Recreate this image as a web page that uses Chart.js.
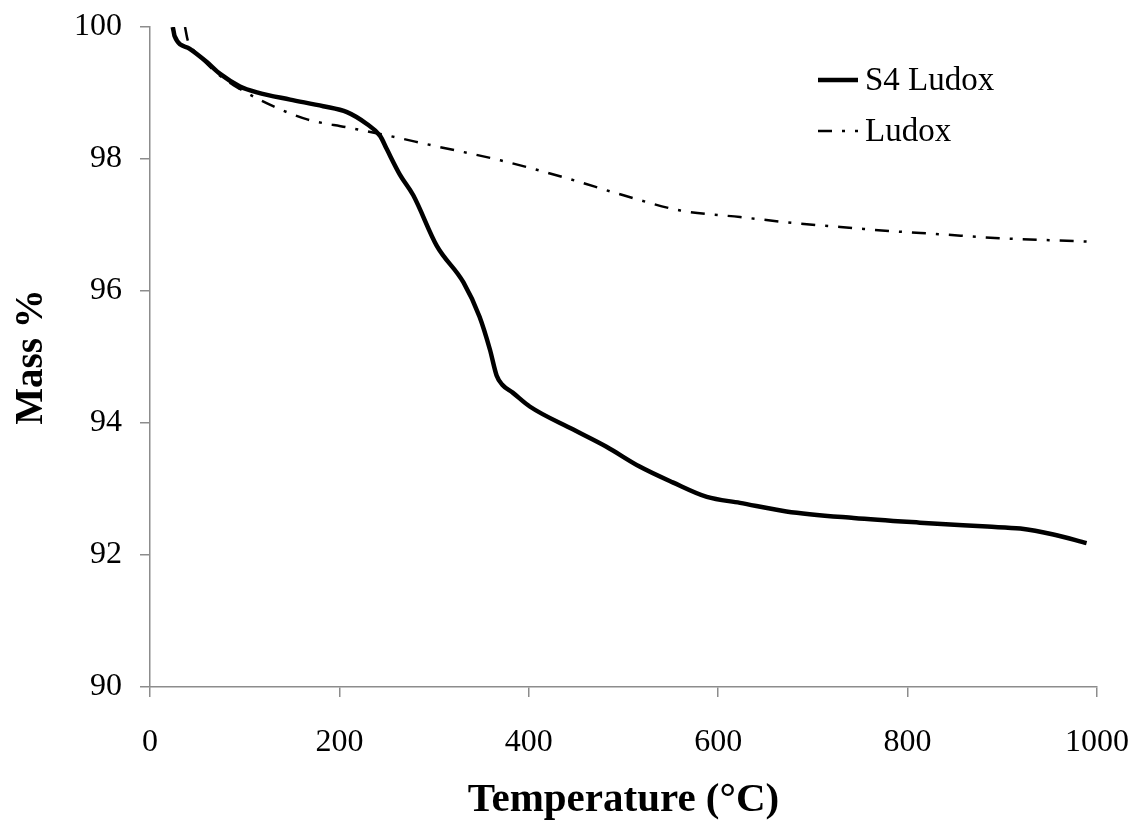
<!DOCTYPE html>
<html>
<head>
<meta charset="utf-8">
<script src="https://cdn.jsdelivr.net/npm/chart.js@4.4.0/dist/chart.umd.min.js"></script>
<style>
  html, body { margin: 0; padding: 0; background: #fff; }
  #wrap { width: 1141px; height: 826px; }
</style>
</head>
<body>
<div id="wrap"><canvas id="tga"></canvas></div>
<script>
// TGA curves, temperature in °C vs remaining mass in %
const s4Temp = [24, 25, 26, 42, 60, 74, 95, 113, 148, 183, 208, 229, 243, 250, 264, 278, 303, 331, 348, 359, 366, 372, 383, 401, 447, 482, 517, 552, 588, 623, 672, 743, 813, 884, 919, 954, 989];
const s4Mass = [100.0, 99.93, 99.86, 99.67, 99.47, 99.29, 99.1, 99.01, 98.9, 98.8, 98.71, 98.53, 98.35, 98.15, 97.76, 97.45, 96.68, 96.13, 95.61, 95.11, 94.72, 94.58, 94.46, 94.25, 93.9, 93.64, 93.34, 93.1, 92.88, 92.79, 92.66, 92.56, 92.49, 92.43, 92.4, 92.31, 92.18];

const ludoxTemp = [37, 40, 50, 74, 95, 130, 166, 208, 243, 300, 370, 440, 500, 560, 623, 680, 729, 780, 834, 897, 950, 989];
const ludoxMass = [100.0, 99.79, 99.6, 99.26, 99.06, 98.8, 98.6, 98.48, 98.38, 98.2, 97.98, 97.71, 97.45, 97.22, 97.12, 97.03, 96.97, 96.91, 96.86, 96.8, 96.77, 96.75];

const xTicks = [0, 200, 400, 600, 800, 1000];
const yTicks = [90, 92, 94, 96, 98, 100];

const toPoints = (xs, ys) => xs.map((x, i) => ({x: x, y: ys[i]}));

const serif = "'Liberation Serif', 'Times New Roman', serif";
const axisGray = "#8c8c8c";

// legend drawn inside the plot, top right
const innerLegend = {
  id: "innerLegend",
  afterDraw(chart) {
    const ctx = chart.ctx;
    const x0 = 818, x1 = 858;
    const rows = [80, 131];
    ctx.save();
    chart.data.datasets.forEach((ds, i) => {
      const y = rows[i];
      ctx.beginPath();
      ctx.setLineDash(ds.borderDash || []);
      ctx.lineWidth = ds.borderWidth;
      ctx.strokeStyle = ds.borderColor;
      ctx.moveTo(x0, y);
      ctx.lineTo(x1, y);
      ctx.stroke();
      ctx.setLineDash([]);
      ctx.fillStyle = "#000";
      ctx.font = "33px " + serif;
      ctx.textBaseline = "middle";
      ctx.fillText(ds.label, x1 + 7, y + 1);
    });
    ctx.restore();
  }
};

new Chart(document.getElementById("tga"), {
  type: "line",
  data: {
    datasets: [
      {
        label: "S4 Ludox",
        data: toPoints(s4Temp, s4Mass),
        borderColor: "#000",
        borderWidth: 4.5,
        pointRadius: 0,
        cubicInterpolationMode: "monotone",
        fill: false
      },
      {
        label: "Ludox",
        data: toPoints(ludoxTemp, ludoxMass),
        borderColor: "#000",
        borderWidth: 2.5,
        borderDash: [14, 10, 3, 10],
        pointRadius: 0,
        cubicInterpolationMode: "monotone",
        fill: false
      }
    ]
  },
  options: {
    responsive: true,
    maintainAspectRatio: false,
    animation: false,
    layout: { padding: { top: 27, right: 44, left: 0, bottom: 0 } },
    plugins: {
      legend: { display: false },
      tooltip: { enabled: false }
    },
    scales: {
      x: {
        type: "linear",
        min: 0,
        max: 1000,
        afterBuildTicks: s => { s.ticks = xTicks.map(v => ({value: v})); },
        afterFit: s => { s.height = 139; s.paddingLeft = 0; s.paddingRight = 0; },
        border: { color: axisGray, width: 1.5 },
        grid: { drawOnChartArea: false, drawTicks: true, tickLength: 10, color: axisGray, lineWidth: 1.5 },
        ticks: { color: "#000", padding: 26, font: { family: serif, size: 32 }, callback: v => String(v) },
        title: {
          display: true,
          text: "Temperature (°C)",
          color: "#000",
          padding: { top: 0, bottom: 1 },
          font: { family: serif, size: 41, weight: "bold" }
        }
      },
      y: {
        min: 90,
        max: 100,
        afterBuildTicks: s => { s.ticks = yTicks.map(v => ({value: v})); },
        afterFit: s => { s.width = 150; s.paddingTop = 0; s.paddingBottom = 0; },
        border: { color: axisGray, width: 1.5 },
        grid: { drawOnChartArea: false, drawTicks: true, tickLength: 10, color: axisGray, lineWidth: 1.5 },
        ticks: { color: "#000", padding: 18, font: { family: serif, size: 32 }, callback: v => String(v) },
        title: {
          display: true,
          text: "Mass %",
          color: "#000",
          padding: { top: 9, bottom: 0 },
          font: { family: serif, size: 39, weight: "bold" }
        }
      }
    }
  },
  plugins: [innerLegend]
});
</script>
</body>
</html>
